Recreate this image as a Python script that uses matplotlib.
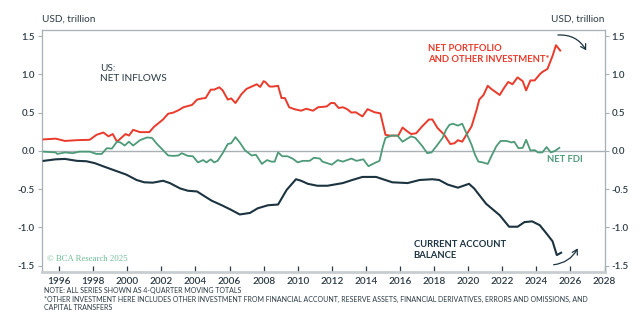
import numpy as np
import matplotlib
matplotlib.use("Agg")
import matplotlib.pyplot as plt
from matplotlib.patches import FancyArrowPatch

plt.rcParams["font.family"] = ["Lato", "DejaVu Sans"]

# US net inflows, 4-quarter moving totals (USD trillion)
port_t = [1995.1, 1995.8, 1996.35, 1997.05, 1997.8, 1998.2, 1998.6, 1998.9, 1999.15, 1999.4,
          1999.9, 2000.1, 2000.35, 2000.75, 2001.3, 2001.55, 2002.1, 2002.4, 2002.7, 2003.0,
          2003.3, 2003.8, 2004.1, 2004.4, 2004.6, 2004.9, 2005.1, 2005.4, 2005.6, 2005.9,
          2006.1, 2006.35, 2006.7, 2007.0, 2007.4, 2007.6, 2007.8, 2008.0, 2008.1, 2008.35,
          2008.55, 2008.85, 2009.05, 2009.25, 2009.5, 2009.8, 2010.2, 2010.5, 2010.9, 2011.2,
          2011.7, 2011.95, 2012.15, 2012.4, 2012.65, 2012.9, 2013.15, 2013.4, 2013.8, 2014.1,
          2014.5, 2014.85, 2015.15, 2015.4, 2015.9, 2016.15, 2016.4, 2016.65, 2016.95, 2017.3,
          2017.7, 2017.9, 2018.2, 2018.6, 2018.95, 2019.2, 2019.4, 2019.65, 2019.95, 2020.2,
          2020.5, 2020.65, 2020.9, 2021.15, 2021.35, 2021.85, 2022.1, 2022.35, 2022.6, 2022.9,
          2023.2, 2023.4, 2023.65, 2023.9, 2024.2, 2024.35, 2024.65, 2024.95, 2025.15, 2025.4]
portfolio = [0.15, 0.16, 0.13, 0.14, 0.145, 0.21, 0.24, 0.19, 0.22, 0.12,
             0.22, 0.20, 0.275, 0.245, 0.245, 0.31, 0.41, 0.485, 0.50, 0.53,
             0.57, 0.60, 0.67, 0.685, 0.69, 0.80, 0.80, 0.83, 0.79, 0.67,
             0.685, 0.625, 0.74, 0.81, 0.85, 0.87, 0.835, 0.91, 0.90, 0.84,
             0.84, 0.85, 0.69, 0.69, 0.57, 0.545, 0.525, 0.55, 0.525, 0.57,
             0.58, 0.625, 0.625, 0.56, 0.57, 0.545, 0.50, 0.505, 0.45, 0.545,
             0.505, 0.49, 0.21, 0.20, 0.20, 0.305, 0.26, 0.22, 0.23, 0.32,
             0.41, 0.41, 0.30, 0.21, 0.09, 0.10, 0.14, 0.12, 0.23, 0.32,
             0.54, 0.67, 0.73, 0.85, 0.81, 0.73, 0.82, 0.90, 0.87, 0.96,
             0.91, 0.79, 0.92, 0.92, 1.00, 1.03, 1.07, 1.24, 1.38, 1.31]

fdi_t = [1995.1, 1995.8, 1995.9, 1996.35, 1996.8, 1997.2, 1997.8, 1998.2, 1998.5, 1998.8,
         1999.1, 1999.4, 1999.6, 1999.85, 2000.1, 2000.35, 2000.75, 2001.15, 2001.45, 2001.75,
         2002.1, 2002.4, 2002.7, 2003.0, 2003.2, 2003.55, 2003.85, 2004.15, 2004.45, 2004.65,
         2004.9, 2005.1, 2005.3, 2005.6, 2005.9, 2006.1, 2006.35, 2006.6, 2006.9, 2007.3,
         2007.55, 2007.9, 2008.2, 2008.45, 2008.65, 2008.85, 2009.1, 2009.4, 2009.7, 2010.0,
         2010.3, 2010.7, 2010.95, 2011.3, 2011.45, 2012.0, 2012.35, 2012.65, 2013.15, 2013.45,
         2013.85, 2014.15, 2014.5, 2014.8, 2015.0, 2015.15, 2015.5, 2015.85, 2016.15, 2016.65,
         2016.9, 2017.3, 2017.6, 2017.85, 2018.15, 2018.5, 2018.7, 2018.9, 2019.1, 2019.4,
         2019.65, 2019.9, 2020.2, 2020.4, 2020.6, 2020.85, 2021.15, 2021.35, 2021.65, 2021.9,
         2022.25, 2022.55, 2022.7, 2022.95, 2023.2, 2023.4, 2023.65, 2023.9, 2024.1, 2024.35,
         2024.6, 2024.85, 2025.1, 2025.35]
fdi = [-0.01, -0.02, -0.04, -0.02, -0.03, -0.01, -0.01, -0.04, -0.04, 0.035,
       0.03, 0.12, 0.11, 0.07, 0.12, 0.07, 0.14, 0.175, 0.17, 0.09,
       0.01, -0.06, -0.065, -0.06, -0.03, -0.065, -0.07, -0.15, -0.12, -0.15,
       -0.11, -0.15, -0.13, -0.03, 0.09, 0.10, 0.18, 0.11, 0.01, -0.06,
       -0.05, -0.17, -0.12, -0.14, -0.14, -0.02, -0.07, -0.07, -0.10, -0.15,
       -0.13, -0.13, -0.09, -0.10, -0.14, -0.18, -0.12, -0.14, -0.10, -0.13,
       -0.11, -0.20, -0.16, -0.13, 0.06, 0.17, 0.20, 0.20, 0.12, 0.19,
       0.17, 0.065, -0.03, -0.02, 0.065, 0.17, 0.275, 0.34, 0.355, 0.33,
       0.355, 0.23, 0.08, -0.05, -0.14, -0.15, -0.17, -0.075, 0.06, 0.13,
       0.13, 0.11, 0.12, 0.035, 0.04, 0.145, 0.005, 0.01, -0.02, -0.02,
       0.05, -0.02, 0.0, 0.04]

ca_t = [1995.1, 1995.8, 1996.35, 1997.05, 1997.6, 1998.1, 1998.7, 1999.45, 1999.95, 2000.55,
        2001.0, 2001.5, 2002.1, 2002.5, 2003.1, 2003.55, 2004.1, 2004.45, 2004.95, 2005.55,
        2006.1, 2006.6, 2007.2, 2007.65, 2008.25, 2008.85, 2009.35, 2009.9, 2010.2, 2010.6,
        2011.15, 2011.75, 2012.65, 2013.2, 2013.8, 2014.6, 2015.0, 2015.55, 2016.45, 2017.15,
        2017.9, 2018.3, 2018.8, 2019.4, 2020.05, 2020.35, 2021.05, 2021.85, 2022.4, 2022.9,
        2023.3, 2023.75, 2024.2, 2024.6, 2024.95, 2025.2, 2025.45]
current_account = [-0.13, -0.11, -0.105, -0.13, -0.135, -0.16, -0.21, -0.27, -0.31, -0.38,
                   -0.41, -0.415, -0.39, -0.42, -0.49, -0.52, -0.53, -0.58, -0.65, -0.71,
                   -0.77, -0.83, -0.81, -0.75, -0.71, -0.70, -0.51, -0.37, -0.39, -0.43,
                   -0.455, -0.455, -0.42, -0.38, -0.34, -0.34, -0.37, -0.41, -0.42, -0.38,
                   -0.37, -0.38, -0.44, -0.48, -0.43, -0.49, -0.69, -0.84, -0.99, -0.99,
                   -0.93, -0.92, -0.97, -1.08, -1.18, -1.36, -1.33]

yticks = [-1.5, -1.0, -0.5, 0.0, 0.5, 1.0, 1.5]
xticks = list(range(1996, 2029, 2))

RED, GREEN, NAVY = "#ea3a2b", "#4d9a78", "#1c3340"
FRAME, TXT = "#a7b0b5", "#2b3a44"

fig = plt.figure(figsize=(6.4, 3.32), dpi=100)
ax = fig.add_axes([0.0656, 0.181, 0.879, 0.729])

ax.axhline(0, color="#a9b1b5", lw=1.0, zorder=1)
ax.plot(port_t, portfolio, color=RED, lw=1.4, zorder=3)
ax.plot(fdi_t, fdi, color=GREEN, lw=1.3, zorder=3)
ax.plot(ca_t, current_account, color=NAVY, lw=1.5, zorder=3)

ax.set_xlim(1995.0, 2028.0)
ax.set_ylim(-1.58, 1.58)
ax.set_xticks(xticks)
ax.set_yticks(yticks)
ax.yaxis.set_major_formatter(matplotlib.ticker.FormatStrFormatter("%.1f"))
ax.tick_params(axis="y", which="both", direction="out", length=3, width=0.8,
               color=FRAME, labelsize=7, labelcolor=TXT, pad=2,
               left=True, right=True, labelleft=True, labelright=True)
ax.tick_params(axis="x", direction="in", length=4, width=0.9, color=TXT,
               labelsize=7.2, labelcolor=TXT, pad=4)
for s in ["left", "right", "top"]:
    ax.spines[s].set_color(FRAME)
    ax.spines[s].set_linewidth(0.9)
ax.spines["bottom"].set_color("#c7cdd0")
ax.spines["bottom"].set_linewidth(2.0)
for lab in ax.get_yticklabels():
    lab.set_fontweight("semibold")
for lab in ax.get_xticklabels():
    lab.set_fontweight("semibold")

fig.text(0.066, 0.93, "USD, trillion", fontsize=7.2, color=TXT, ha="left", va="bottom")
fig.text(0.944, 0.93, "USD, trillion", fontsize=7.2, color=TXT, ha="right", va="bottom")

ax.text(1998.4, 1.14, "US:\nNET INFLOWS", fontsize=7.2, color=TXT, ha="left", va="top",
        linespacing=1.25)
ax.text(2017.65, 1.40, "NET PORTFOLIO\nAND OTHER INVESTMENT*", fontsize=6.8, color=RED,
        fontweight="bold", ha="left", va="top", linespacing=1.3)
ax.text(2024.6, -0.06, "NET FDI", fontsize=6.8, color=GREEN, fontweight="bold",
        ha="left", va="top")
ax.text(2016.8, -1.16, "CURRENT ACCOUNT\nBALANCE", fontsize=6.8, color=NAVY,
        fontweight="bold", ha="left", va="top", linespacing=1.3)
ax.text(1995.3, -1.47, "\u00a9 BCA Research 2025", fontsize=6.3, color="#6fbb98",
        family=["Liberation Serif", "DejaVu Serif"], ha="left", va="bottom")

# curved pointers toward the right-hand scale
arrow_kw = dict(arrowstyle="->,head_length=2.2,head_width=1.3", color=NAVY, lw=0.9,
                mutation_scale=1.6, zorder=4)
ax.add_patch(FancyArrowPatch((2025.1, 1.51), (2027.0, 1.28),
                             connectionstyle="arc3,rad=-0.35", **arrow_kw))
ax.add_patch(FancyArrowPatch((2024.85, -1.49), (2026.5, -1.24),
                             connectionstyle="arc3,rad=0.3", **arrow_kw))

notes = ("NOTE: ALL SERIES SHOWN AS 4-QUARTER MOVING TOTALS\n"
         "*OTHER INVESTMENT HERE INCLUDES OTHER INVESTMENT FROM FINANCIAL ACCOUNT, RESERVE ASSETS, "
         "FINANCIAL DERIVATIVES, ERRORS AND OMISSIONS, AND\nCAPITAL TRANSFERS")
fig.text(0.068, 0.135, notes, fontsize=5.0, color=TXT, ha="left", va="top", linespacing=1.25)

fig.savefig("out.png", dpi=100, facecolor="white")
